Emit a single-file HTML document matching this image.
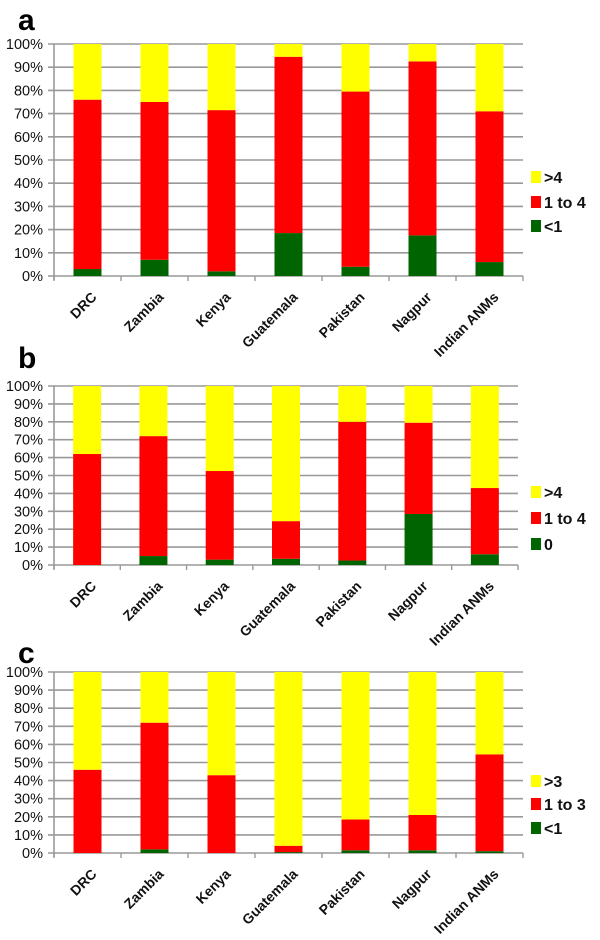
<!DOCTYPE html>
<html><head><meta charset="utf-8"><style>
body{margin:0;background:#fff;width:600px;height:940px;overflow:hidden}
svg{display:block}
text{font-family:"Liberation Sans",Arial,sans-serif}
</style></head><body>
<svg id="chart" width="600" height="940" viewBox="0 0 600 940" xmlns="http://www.w3.org/2000/svg"></svg>
<script>
const categories = ["DRC","Zambia","Kenya","Guatemala","Pakistan","Nagpur","Indian ANMs"];
const ticks = ["0%","10%","20%","30%","40%","50%","60%","70%","80%","90%","100%"];
// panel a
const aLow = [3,7,2,18.5,4,17.5,6];
const aMid = [73,68,69.5,76,75.5,75,65];
const aLegend = [">4","1 to 4","<1"];
// panel b
const bLow = [0,5,3,3.5,2.5,28.5,6];
const bMid = [62,67,49.5,21,77.5,51,37];
const bLegend = [">4","1 to 4","0"];
// panel c
const cLow = [0,2,0,0.5,1.5,1.5,1];
const cMid = [46,70,43,3.5,17,19.5,53.5];
const cLegend = [">3","1 to 3","<1"];

const panels = [
 {id:"a",low:aLow,mid:aMid,legend:aLegend,top:44,bottom:276,left:54,right:523,letterY:30,legY:[177,202,226]},
 {id:"b",low:bLow,mid:bMid,legend:bLegend,top:386,bottom:565,left:54,right:518,letterY:368,legY:[492,518,544]},
 {id:"c",low:cLow,mid:cMid,legend:cLegend,top:672,bottom:853,left:54,right:523,letterY:663,legY:[781,804,828]}
];
const NS="http://www.w3.org/2000/svg";
const svg=document.getElementById("chart");
function mk(tag,attrs,parent){const e=document.createElementNS(NS,tag);for(const k in attrs)e.setAttribute(k,attrs[k]);(parent||svg).appendChild(e);return e;}
panels.forEach(p=>{
  const g=mk("g",{});
  
  
  const y=v=>p.bottom-(v/100)*(p.bottom-p.top);
  const cw=(p.right-p.left)/categories.length;
  const x=i=>p.left+cw*(i+0.5);
  const bw=28;
  const L=mk("text",{x:18,y:p.letterY,"font-size":30,"font-weight":"bold",fill:"#000"},g);
  L.textContent=p.id;
  
  
  ticks.forEach((t,i)=>{
    const v=i*10;
    const gl=mk("line",{x1:p.left-6,x2:p.right,y1:y(v),y2:y(v),stroke:"#999","stroke-width":1.6},g);
    
    
    const tl=mk("text",{x:43,y:y(v)+5,"font-size":14.5,"text-anchor":"end",fill:"#111"},g);
    tl.textContent=t;
    
    
  });
  mk("line",{x1:p.left,x2:p.left,y1:p.top,y2:p.bottom+4,stroke:"#999","stroke-width":1.6},g);
  for(let i=0;i<=categories.length;i++){
    mk("line",{x1:p.left+cw*i,x2:p.left+cw*i,y1:p.bottom,y2:p.bottom+5,stroke:"#999","stroke-width":1.4},g);
  }
  categories.forEach((c,i)=>{
    const lo=p.low[i], mi=p.mid[i];
    const segs=[[0,lo,"#006400","low"],[lo,lo+mi,"#ff0000","mid"],[lo+mi,100,"#ffff00","high"]];
    segs.forEach(s=>{
      if(s[1]-s[0]<=0)return;
      const r=mk("rect",{x:x(i)-bw/2,y:y(s[1]),width:bw,height:y(s[0])-y(s[1]),fill:s[2]},g);
      
      
    });
    const tx=x(i)+10, ty=p.bottom+22;
    const lab=mk("text",{x:tx,y:ty,"font-size":14,"font-weight":"bold","text-anchor":"end",fill:"#111",transform:`rotate(-45 ${tx} ${ty})`},g);
    lab.textContent=c;
    
    
  });
  const cols=["#ffff00","#ff0000","#006400"];
  p.legend.forEach((l,i)=>{
    const r=mk("rect",{x:531,y:p.legY[i]-6,width:10,height:12,fill:cols[i]},g);
    
    
    const t=mk("text",{x:544,y:p.legY[i]+6,"font-size":16,"font-weight":"bold",fill:"#111"},g);
    t.textContent=l;
    
    
  });
});
</script>
</body></html>
